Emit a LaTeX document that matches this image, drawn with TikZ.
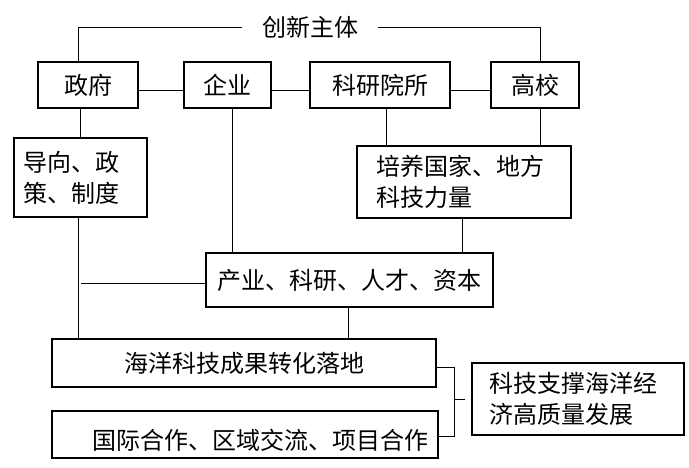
\documentclass[tikz,border=0pt]{standalone}
\usepackage{fontspec}
\setmainfont{Noto Sans CJK SC}
\usepackage{tikz}
\usetikzlibrary{positioning,calc}

\begin{document}
\begin{tikzpicture}[x=0.5pt, y=-0.5pt, thin,
    box/.style={draw, line width=1pt, inner sep=0pt, font=\fontsize{12}{15.5}\selectfont},
    lbl/.style={inner sep=0pt, font=\fontsize{12}{15.5}\selectfont}]
    \useasboundingbox (0,0) rectangle (689,467);
    \node[lbl, inner xsep=10pt] (subj) at (310,27) {创新主体};
    \node[box, minimum width=50pt, minimum height=23pt] (gov) at (88,85) {政府};
    \node[box, minimum width=43.5pt, minimum height=23pt] (ent) at (227.5,85) {企业};
    \node[box, minimum width=70pt, minimum height=23pt] (inst) at (380,85) {科研院所};
    \node[box, minimum width=44pt, minimum height=23pt] (univ) at (535,85) {高校};
    \node[box, minimum width=66.5pt, minimum height=39.5pt, inner xsep=4.5pt,
        text width=57.5pt, align=left] (guide) at (80.5,177.5) {导向、政\\策、制度};
    \node[box, minimum width=107pt, minimum height=36pt, inner xsep=9.5pt,
        text width=88pt, align=left] (train) at (464,182) {培养国家、地方\\科技力量};
    \node[box, minimum width=143.5pt, minimum height=27pt] (res) at (349.5,280) {产业、科研、人才、资本};
    \node[box, minimum width=192pt, minimum height=24pt] (ocean) at (244,363) {海洋科技成果转化落地};
    \node[box, minimum width=193pt, minimum height=23.5pt, inner xsep=5pt, text width=183pt,
        align=right, text height=16pt, text depth=1pt] (intl) at (245,434.5) {国际合作、区域交流、项目合作};
    \node[box, minimum width=106pt, minimum height=36pt, inner xsep=8.5pt,
        text width=89pt, align=left] (goal) at (578,399) {科技支撑海洋经\\济高质量发展};

    \draw (subj.west) -| ($(gov.north)+(-10,0)$);
    \draw (subj.east) -| ($(univ.north)+(5,0)$);
    \draw ($(gov.east)+(0,5)$) -- ($(ent.west)+(0,5)$);
    \draw ($(ent.east)+(0,5)$) -- ($(inst.west)+(0,5)$);
    \draw ($(inst.east)+(0,5)$) -- ($(univ.west)+(0,5)$);
    \draw (guide.north) -- (guide.north |- gov.south);
    \draw ([xshift=2.5pt]ent.south) -- ([xshift=2.5pt]ent.south |- res.north);
    \draw ([xshift=3pt]inst.south) -- ([xshift=3pt]inst.south |- train.north);
    \draw ([xshift=2.5pt]univ.south) -- ([xshift=2.5pt]univ.south |- train.north);
    \draw ([xshift=-1pt]train.south) -- ([xshift=-1pt]train.south |- res.north);
    \draw ([xshift=-1pt]guide.south) -- ([xshift=-1pt]guide.south |- ocean.north);
    \draw ([yshift=-1.5pt]res.west) -- ([yshift=-1.5pt]res.west -| guide.south);
    \draw ([xshift=-0.75pt]res.south) -- ([xshift=-0.75pt]res.south |- ocean.north);
    \coordinate (brk) at ($(ocean.east)+(17,0)$);
    \draw ([yshift=-2pt]ocean.east) -- ([yshift=-2pt]ocean.east -| brk) |- ([yshift=-1pt]intl.east);
    \draw (brk |- goal.west) -- ([xshift=-3pt]goal.west);
\end{tikzpicture}
\end{document}
